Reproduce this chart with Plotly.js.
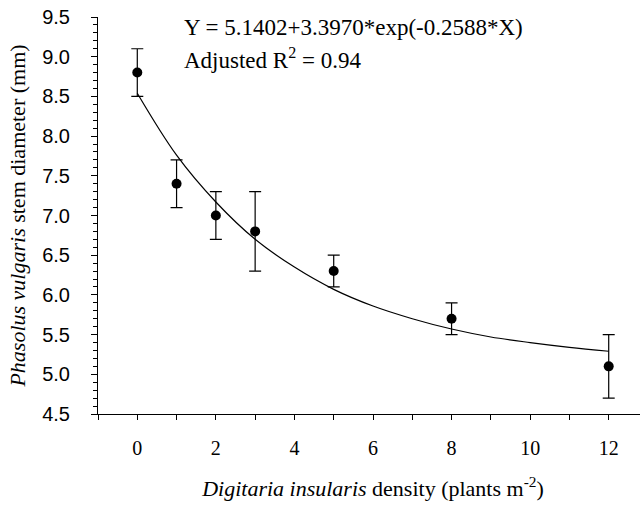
<!DOCTYPE html>
<html><head><meta charset="utf-8">
<script src="https://cdn.plot.ly/plotly-3.0.1.min.js"></script>
<style>html,body{margin:0;padding:0;overflow:hidden;background:#fff}</style></head>
<body><div id="chart" style="width:650px;height:507px"></div>
<script>
// Observed means with error bars
const density = [0, 1, 2, 3, 5, 8, 12];
const diameter = [8.8, 7.4, 7.0, 6.8, 6.3, 5.7, 5.1];
const errorSize = [0.3, 0.3, 0.3, 0.5, 0.2, 0.2, 0.4];
// Fitted curve
const curveX = [0, 1, 2, 3, 4, 5, 6, 7, 8, 9, 10, 11, 12];
const curveY = [8.54, 7.76, 7.17, 6.70, 6.35, 6.07, 5.86, 5.70, 5.57, 5.47, 5.40, 5.34, 5.29];
const xTicks = [0, 2, 4, 6, 8, 10, 12];

const serif = 'Liberation Serif';
const sans = 'Liberation Sans';

const traces = [
  {x: curveX, y: curveY, type: 'scatter', mode: 'lines',
   line: {color: '#000', width: 1.2, shape: 'spline'}, hoverinfo: 'skip'},
  {x: density, y: diameter, type: 'scatter', mode: 'markers',
   marker: {color: '#000', size: 10},
   error_y: {type: 'data', array: errorSize, visible: true, color: '#000', thickness: 1.2, width: 6}}
];

const layout = {
  width: 650, height: 507,
  margin: {l: 98, r: 2, t: 17, b: 93},
  paper_bgcolor: '#fff', plot_bgcolor: '#fff',
  showlegend: false,
  font: {family: serif, color: '#000'},
  xaxis: {
    range: [-1, 13], tickvals: xTicks, ticks: 'outside', ticklen: 5, tickcolor: '#000',
    showline: true, linecolor: '#000', linewidth: 1, showgrid: false, zeroline: false,
    tickfont: {family: serif, size: 20, color: '#000'}, ticklabelstandoff: 11,
    minor: {dtick: 1, tick0: 0, ticks: 'outside', ticklen: 5, tickcolor: '#000', showgrid: false},
    title: {text: '<i>Digitaria insularis</i> density (plants m<sup>-2</sup>)', font: {family: serif, size: 22, color: '#000'}, standoff: 22}
  },
  yaxis: {
    range: [4.5, 9.5], dtick: 0.5, tick0: 4.5, tickformat: '.1f', ticks: 'outside', ticklen: 6, tickcolor: '#000',
    showline: true, linecolor: '#000', linewidth: 1, showgrid: false, zeroline: false,
    tickfont: {family: sans, size: 20, color: '#000'}, ticklabelstandoff: 17,
    minor: {dtick: 0.1, tick0: 4.5, ticks: 'outside', ticklen: 4, tickcolor: '#000', showgrid: false},
    title: {text: '<i>Phasolus vulgaris</i> stem diameter (mm)', font: {family: serif, size: 22, color: '#000'}, standoff: 10}
  },
  annotations: [
    {xref: 'paper', yref: 'paper', x: (182 - 98) / 550, y: 1 - (42 - 17) / 397, xanchor: 'left', yanchor: 'bottom',
     text: 'Y = 5.1402+3.3970*exp(-0.2588*X)', showarrow: false, font: {family: serif, size: 23, color: '#000'}},
    {xref: 'paper', yref: 'paper', x: (182 - 98) / 550, y: 1 - (75 - 17) / 397, xanchor: 'left', yanchor: 'bottom',
     text: 'Adjusted R<sup>2</sup> = 0.94', showarrow: false, font: {family: serif, size: 23, color: '#000'}}
  ]
};

Plotly.newPlot('chart', traces, layout, {displayModeBar: false, staticPlot: true});
</script></body></html>
